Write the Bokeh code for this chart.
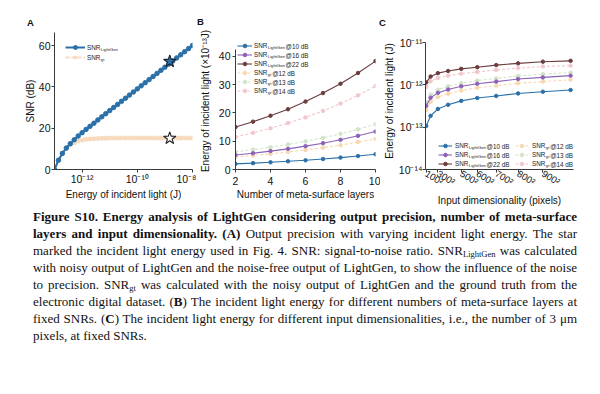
from bokeh.plotting import figure
from bokeh.models import (ColumnDataSource, FixedTicker, Label, Legend, LegendItem,
                          Div, Range1d)
from bokeh.layouts import row, column
from bokeh.embed import file_html
from bokeh.resources import INLINE
from bokeh.core.properties import value

# ---------------- data : panel A ----------------
energy_A = [1.00e-13, 1.39e-13, 1.93e-13, 2.68e-13, 3.73e-13, 5.18e-13, 7.20e-13,
            1.00e-12, 1.39e-12, 1.93e-12, 2.68e-12, 3.73e-12, 5.18e-12, 7.20e-12,
            1.00e-11, 1.39e-11, 1.93e-11, 2.68e-11, 3.73e-11, 5.18e-11, 7.20e-11,
            1.00e-10, 1.39e-10, 1.93e-10, 2.68e-10, 3.73e-10, 5.18e-10, 7.20e-10,
            1.00e-09, 1.39e-09, 1.93e-09, 2.68e-09, 3.73e-09, 5.18e-09, 7.20e-09,
            1.00e-08]
snr_lightgen_A = [0.0, 4.5, 7.8, 10.4, 12.5, 14.4, 16.2, 17.8, 19.4, 20.9, 22.4, 24.0,
                  25.5, 27.0, 28.5, 30.0, 31.5, 33.0, 34.5, 36.0, 37.5, 39.0, 40.5, 42.0,
                  43.5, 45.0, 46.5, 48.0, 49.5, 51.0, 52.5, 54.0, 55.5, 57.0, 58.5, 60.0]
snr_gt_A = [0.0, 4.5, 7.8, 10.2, 11.9, 13.0, 13.8, 14.3, 14.6, 14.8, 14.9, 15.0,
            15.1, 15.1, 15.2, 15.2, 15.2, 15.2, 15.2, 15.2, 15.2, 15.2, 15.2, 15.2,
            15.2, 15.2, 15.2, 15.2, 15.2, 15.2, 15.2, 15.2, 15.2, 15.2, 15.2, 15.2]
star_energy_A = [1.5e-9]
star_lightgen_A = [52.3]
star_gt_A = [15.1]
a_x_ticks = [1e-12, 1e-10, 1e-8]
a_x_labels = ["10\u207b\u00b9\u00b2", "10\u207b\u00b9\u2070", "10\u207b\u2078"]
a_y_ticks = [0, 20, 40, 60]

# ---------------- data : panel B ----------------
layers_B = [2, 3, 4, 5, 6, 7, 8, 9, 10]
b_lightgen_10 = [2.0, 2.25, 2.55, 2.9, 3.25, 3.7, 4.2, 4.75, 5.4]
b_lightgen_16 = [5.1, 5.75, 6.5, 7.3, 8.25, 9.3, 10.5, 11.9, 13.4]
b_lightgen_22 = [15.0, 16.9, 19.0, 21.3, 24.0, 27.0, 30.3, 34.1, 38.3]
b_gt_12 = [4.4, 4.95, 5.5, 6.2, 6.9, 7.7, 8.6, 9.7, 10.8]
b_gt_13 = [6.2, 7.0, 7.85, 8.85, 9.95, 11.2, 12.6, 14.2, 16.0]
b_gt_14 = [11.5, 12.95, 14.55, 16.4, 18.4, 20.7, 23.3, 26.2, 29.5]
b_x_ticks = [2, 4, 6, 8, 10]
b_y_ticks = [0, 10, 20, 30, 40]

# ---------------- data : panel C ----------------
pixels_C = [10000, 40000, 90000, 160000, 250000, 360000, 490000, 640000, 810000, 1000000]
c_lightgen_10 = [1.07e-13, 1.86e-13, 2.7e-13, 3.4e-13, 4.2e-13, 4.9e-13, 5.5e-13, 6.3e-13, 6.9e-13, 7.6e-13]
c_lightgen_16 = [3.2e-13, 5.0e-13, 6.5e-13, 7.8e-13, 9.3e-13, 1.07e-12, 1.2e-12, 1.38e-12, 1.51e-12, 1.66e-12]
c_lightgen_22 = [1.15e-12, 1.58e-12, 1.9e-12, 2.14e-12, 2.4e-12, 2.63e-12, 2.95e-12, 3.24e-12, 3.55e-12, 3.72e-12]
c_gt_12 = [2.55e-13, 4.0e-13, 5.2e-13, 6.2e-13, 7.4e-13, 8.6e-13, 9.6e-13, 1.1e-12, 1.2e-12, 1.33e-12]
c_gt_13 = [3.8e-13, 5.95e-13, 7.7e-13, 9.3e-13, 1.1e-12, 1.27e-12, 1.43e-12, 1.64e-12, 1.8e-12, 1.97e-12]
c_gt_14 = [8.9e-13, 1.22e-12, 1.46e-12, 1.65e-12, 1.85e-12, 2.03e-12, 2.27e-12, 2.5e-12, 2.73e-12, 2.86e-12]
c_x_ticks = [10000, 90000, 250000, 360000, 490000, 640000, 810000]
c_x_labels = ["100\u00b2", "300\u00b2", "500\u00b2", "600\u00b2", "700\u00b2", "800\u00b2", "900\u00b2"]
c_y_ticks = [1e-14, 1e-13, 1e-12, 1e-11]
c_y_labels = ["10\u207b\u00b9\u2074", "10\u207b\u00b9\u00b3", "10\u207b\u00b9\u00b2", "10\u207b\u00b9\u00b9"]

panel_letters = ["A", "B", "C"]

caption_lines = [
    "<b>Figure S10. Energy analysis of LightGen considering output precision, number of meta-surface</b>",
    "<b>layers and input dimensionality. (A)</b> Output precision with varying incident light energy. The star",
    "marked the incident light energy used in Fig. 4. SNR: signal-to-noise ratio. SNR<sub>LightGen</sub> was calculated",
    "with noisy output of LightGen and the noise-free output of LightGen, to show the influence of the noise",
    "to precision. SNR<sub>gt</sub> was calculated with the noisy output of LightGen and the ground truth from the",
    "electronic digital dataset. (<b>B</b>) The incident light energy for different numbers of meta-surface layers at",
    "fixed SNRs. (<b>C</b>) The incident light energy for different input dimensionalities, i.e., the number of 3 \u03bcm",
    "pixels, at fixed SNRs.",
]

# ---------------- styles ----------------
FONT = "Liberation Sans"
BLUE = "#2b70a8"
PURPLE = "#8c62b8"
BROWN = "#6b3d3d"
L_ORANGE = "#f8d8b0"
L_GREEN = "#d3e5c9"
L_PINK = "#f1c8cc"
PEACH = "#f6d8bb"
AXIS = "#3a3a3a"

ROW_H = 180
TOP_B = 4
BOT_B = 39


def base_fig(width, left, right, **kw):
    p = figure(width=width, height=ROW_H, min_border_left=left, min_border_right=right,
               min_border_top=TOP_B, min_border_bottom=BOT_B, output_backend="svg",
               toolbar_location=None, title=None, margin=0, **kw)
    p.xgrid.visible = False
    p.ygrid.visible = False
    p.outline_line_color = None
    p.background_fill_color = "white"
    p.border_fill_color = "white"
    for ax in p.axis:
        ax.axis_line_color = AXIS
        ax.axis_line_width = 1
        ax.major_tick_line_color = AXIS
        ax.major_tick_out = 3
        ax.major_tick_in = 0
        ax.minor_tick_line_color = None
        ax.major_label_text_font = FONT
        ax.major_label_text_font_size = "10.5px"
        ax.major_label_text_color = "#111111"
        ax.major_label_standoff = 1
        ax.axis_label_text_font = FONT
        ax.axis_label_text_font_size = "10px"
        ax.axis_label_text_font_style = "normal"
        ax.axis_label_text_color = "#111111"
        ax.axis_label_standoff = 2
    return p


def txt(p, x, y, text, size="6.3px", **kw):
    p.add_layout(Label(x=x, y=y, x_units="screen", y_units="screen", text=text,
                       text_font=FONT, text_font_size=size, text_baseline="middle",
                       text_color="#222222", **kw))


def make_legend(p, items, loc, gw, pitch, standoff):
    leg = Legend(items=items, location=loc, orientation="vertical",
                 glyph_width=gw, glyph_height=pitch, label_height=pitch, label_width=5,
                 spacing=0, padding=0, margin=0, label_standoff=standoff,
                 label_text_font=FONT, label_text_font_size="6.3px", label_text_color="#222222",
                 background_fill_alpha=0, border_line_color=None)
    p.add_layout(leg)
    return leg


SNR_W = 13.3
SUB_LG_W = 17.0
SUB_GT_W = 3.6

# ---------------- panel A ----------------
pA = base_fig(196, 54, 4, x_axis_type="log",
              x_range=Range1d(1e-13, 1e-8), y_range=Range1d(0, 66.3))
srcA = ColumnDataSource(dict(energy=energy_A, lg=snr_lightgen_A, gt=snr_gt_A))
a_gt_line = pA.line("energy", "gt", source=srcA, line_color=PEACH, line_width=2.2,
                    line_dash="4 2", line_alpha=0.9)
a_gt_pts = pA.scatter("energy", "gt", source=srcA, size=5, fill_color=PEACH,
                      line_color=None, fill_alpha=0.9)
a_lg_line = pA.line("energy", "lg", source=srcA, line_color=BLUE, line_width=2)
a_lg_pts = pA.scatter("energy", "lg", source=srcA, size=4.5, fill_color=BLUE, line_color=BLUE)
pA.scatter(star_energy_A, star_lightgen_A, marker="star", size=13, fill_color=BLUE,
           line_color="#1a2530", line_width=1.1)
pA.scatter(star_energy_A, star_gt_A, marker="star", size=13, fill_color="white",
           line_color="#222222", line_width=1.1)
pA.xaxis.ticker = FixedTicker(ticks=a_x_ticks)
pA.xaxis.major_label_overrides = dict(zip(a_x_ticks, a_x_labels))
pA.yaxis.ticker = FixedTicker(ticks=a_y_ticks)
pA.xaxis.axis_label = "Energy of incident light (J)"
pA.yaxis.axis_label = "SNR (dB)"
pA.xaxis.major_label_standoff = 0
pA.xaxis.axis_label_standoff = 1
pA.yaxis.axis_label_standoff = 0
make_legend(pA, [LegendItem(label=value("SNR"), renderers=[a_lg_line, a_lg_pts]),
                 LegendItem(label=value("SNR"), renderers=[a_gt_line, a_gt_pts])],
            (11, 107), 20, 10, 2)
txt(pA, 11 + 20 + 2 + SNR_W, 120.5, "LightGen", size="4.2px")
txt(pA, 11 + 20 + 2 + SNR_W, 110.5, "gt", size="4.2px")

# ---------------- panels B and C shared series ----------------
series = [
    ("LightGen", "@10 dB", BLUE, None),
    ("LightGen", "@16 dB", PURPLE, None),
    ("LightGen", "@22 dB", BROWN, None),
    ("gt", "@12 dB", L_ORANGE, "3 2"),
    ("gt", "@13 dB", L_GREEN, "3 2"),
    ("gt", "@14 dB", L_PINK, "3 2"),
]
b_values = [b_lightgen_10, b_lightgen_16, b_lightgen_22, b_gt_12, b_gt_13, b_gt_14]
c_values = [c_lightgen_10, c_lightgen_16, c_lightgen_22, c_gt_12, c_gt_13, c_gt_14]


def draw_series(p, xs, ys_list):
    rends = {}
    for i in [3, 4, 5, 0, 1, 2]:
        sub, suf, col, dash = series[i]
        kw = dict(line_dash=dash) if dash else {}
        ln = p.line(xs, ys_list[i], line_color=col, line_width=1.1, **kw)
        pt = p.scatter(xs, ys_list[i], size=3.5, fill_color=col, line_color=col)
        rends[i] = [ln, pt]
    return [LegendItem(label=value("SNR"), renderers=rends[i]) for i in range(6)]


# ---------------- panel B ----------------
pB = base_fig(184, 37, 5, x_range=Range1d(2, 10), y_range=Range1d(0, 48.4))
itemsB = draw_series(pB, layers_B, b_values)
pB.xaxis.ticker = FixedTicker(ticks=b_x_ticks)
pB.yaxis.ticker = FixedTicker(ticks=b_y_ticks)
pB.yaxis.bounds = (0, 42.5)
pB.xaxis.axis_label = "Number of meta-surface layers"
pB.yaxis.axis_label = "Energy of incident light (\u00d710\u207b\u00b9\u00b3J)"
pB.xaxis.major_label_standoff = 4
pB.xaxis.axis_label_standoff = 1
pB.yaxis.major_label_standoff = 2
pB.yaxis.axis_label_standoff = 5
make_legend(pB, itemsB, (2, 74), 15, 9, 2)
for k, (sub, suf, col, dash) in enumerate(series):
    yk = 123.5 - 9 * k
    xs = 2 + 15 + 2 + SNR_W
    txt(pB, xs, yk - 1.5, sub, size="4.2px")
    txt(pB, xs + (SUB_LG_W if sub == "LightGen" else SUB_GT_W) + 0.8, yk, suf)

# ---------------- panel C ----------------
pC = base_fig(212, 36, 19, y_axis_type="log",
              x_range=Range1d(5000, 1020000), y_range=Range1d(1e-14, 1.74e-11))
itemsC = draw_series(pC, pixels_C, c_values)
pC.xaxis.ticker = FixedTicker(ticks=c_x_ticks)
pC.xaxis.major_label_overrides = dict(zip(c_x_ticks, c_x_labels))
pC.xaxis.major_label_orientation = -0.56
pC.xaxis.major_label_text_font_size = "9.5px"
pC.xaxis.major_label_standoff = 0
pC.xaxis.axis_label_standoff = 0
pC.yaxis.ticker = FixedTicker(ticks=c_y_ticks)
pC.yaxis.bounds = (1e-14, 1e-11)
pC.yaxis.major_label_overrides = dict(zip(c_y_ticks, c_y_labels))
pC.yaxis.major_label_standoff = 0
pC.yaxis.axis_label_standoff = 1
pC.xaxis.axis_label = "Input dimensionality (pixels)"
pC.yaxis.axis_label = "Energy of incident light (J)"
make_legend(pC, itemsC[:3], (13, 1), 14, 9, 3)
make_legend(pC, itemsC[3:], (90, 1), 13, 9, 4)
for k, (sub, suf, col, dash) in enumerate(series):
    yk = 23.5 - 9 * (k % 3)
    if sub == "LightGen":
        xs = 13 + 14 + 3 + SNR_W
        w = SUB_LG_W
    else:
        xs = 90 + 13 + 4 + SNR_W
        w = SUB_GT_W
    txt(pC, xs, yk - 1.5, sub, size="4.2px")
    txt(pC, xs + w + 0.8, yk, suf)

# ---------------- panel letters (above the row) ----------------
letter_pos = [(27, 17), (197, 16), (379, 17)]
spans = "".join(
    f"<span style='position:absolute;left:{x}px;top:{y}px;line-height:12px;'>{t}</span>"
    for t, (x, y) in zip(panel_letters, letter_pos))
letters = Div(text=("<div style=\"position:relative;width:592px;height:28px;"
                    "font-family:'Liberation Sans',Arial,sans-serif;font-weight:bold;"
                    "font-size:9.5px;color:#111;\">" + spans + "</div>"),
              width=592, height=28, margin=0)

# ---------------- caption ----------------
line_divs = []
for i, ln in enumerate(caption_lines):
    last = i == len(caption_lines) - 1
    align = "text-align:left;" if last else "text-align:justify;text-align-last:justify;"
    line_divs.append(f"<div style='{align}'>{ln}</div>")
html = ("<div style=\"margin-left:33px;width:544px;font-family:'Liberation Serif',"
        "'Times New Roman',serif;font-size:13px;line-height:17px;color:#111;\">"
        "<style>sub{font-size:8.5px;line-height:0;vertical-align:-2px;}</style>"
        + "".join(line_divs) + "</div>")
caption = Div(text=html, width=592, height=170, margin=0)

layout = column(letters, row(pA, pB, pC, spacing=0), caption, spacing=0)
open("out.html", "w").write(file_html(layout, INLINE))
